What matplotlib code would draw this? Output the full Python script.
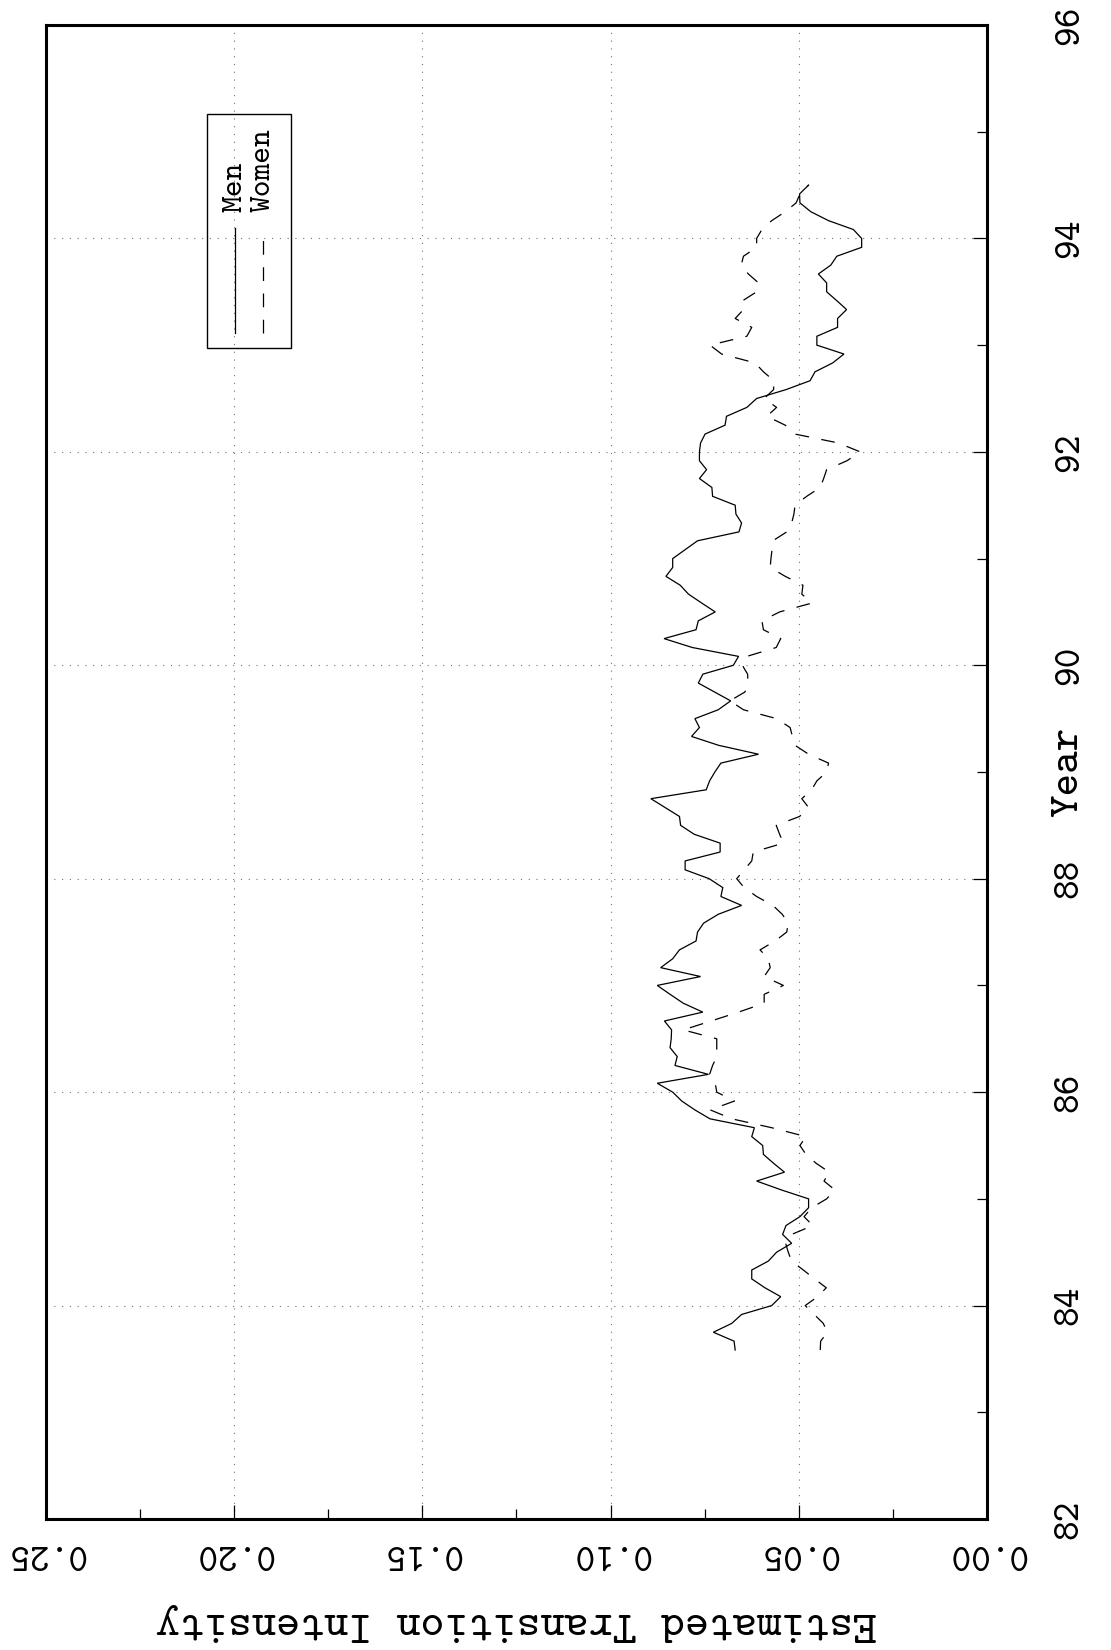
import numpy as np
import matplotlib
matplotlib.use("Agg")
import matplotlib.pyplot as plt
from matplotlib.lines import Line2D
from matplotlib.patches import Rectangle
from matplotlib.ticker import MultipleLocator, FixedLocator

# monthly observations, starting August 1983 (year axis in two-digit years)
start_year = 83 + 7 / 12
men = [0.0669, 0.0672, 0.0727, 0.0678, 0.0652, 0.0572, 0.0548, 0.0590, 0.0625, 0.0625,
       0.0581, 0.0559, 0.0519, 0.0543, 0.0534, 0.0497, 0.0474, 0.0474, 0.0546, 0.0612,
       0.0538, 0.0567, 0.0594, 0.0596, 0.0625, 0.0618, 0.0736, 0.0776, 0.0811, 0.0835,
       0.0876, 0.0740, 0.0829, 0.0823, 0.0842, 0.0839, 0.0838, 0.0857, 0.0755, 0.0807,
       0.0842, 0.0876, 0.0761, 0.0867, 0.0835, 0.0817, 0.0773, 0.0769, 0.0753, 0.0714,
       0.0652, 0.0707, 0.0702, 0.0738, 0.0802, 0.0802, 0.0709, 0.0709, 0.0778, 0.0814,
       0.0817, 0.0855, 0.0893, 0.0746, 0.0737, 0.0723, 0.0707, 0.0607, 0.0713, 0.0785,
       0.0764, 0.0776, 0.0714, 0.0681, 0.0724, 0.0767, 0.0755, 0.0674, 0.0660, 0.0783,
       0.0858, 0.0773, 0.0767, 0.0722, 0.0758, 0.0793, 0.0815, 0.0853, 0.0835, 0.0835,
       0.0802, 0.0769, 0.0659, 0.0652, 0.0667, 0.0669, 0.0729, 0.0731, 0.0764, 0.0745,
       0.0764, 0.0764, 0.0761, 0.0749, 0.0696, 0.0692, 0.0638, 0.0612, 0.0534, 0.0470,
       0.0457, 0.0410, 0.0380, 0.0452, 0.0452, 0.0397, 0.0397, 0.0373, 0.0399, 0.0426,
       0.0426, 0.0448, 0.0415, 0.0399, 0.0333, 0.0333, 0.0355, 0.0421, 0.0468, 0.0497,
       0.0498, 0.0474]
women = [0.0443, 0.0442, 0.0424, 0.0435, 0.0459, 0.0483, 0.0450, 0.0427, 0.0458, 0.0488,
         0.0519, 0.0528, 0.0535, 0.0519, 0.0463, 0.0486, 0.0466, 0.0426, 0.0404, 0.0433,
         0.0419, 0.0454, 0.0481, 0.0497, 0.0481, 0.0572, 0.0678, 0.0735, 0.0671, 0.0718,
         0.0722, 0.0737, 0.0729, 0.0718, 0.0718, 0.0718, 0.0807, 0.0733, 0.0660, 0.0592,
         0.0592, 0.0541, 0.0592, 0.0576, 0.0581, 0.0603, 0.0563, 0.0532, 0.0528, 0.0544,
         0.0569, 0.0612, 0.0645, 0.0665, 0.0645, 0.0625, 0.0621, 0.0541, 0.0551, 0.0560,
         0.0498, 0.0474, 0.0492, 0.0466, 0.0452, 0.0426, 0.0421, 0.0474, 0.0510, 0.0517,
         0.0523, 0.0559, 0.0647, 0.0683, 0.0643, 0.0635, 0.0636, 0.0650, 0.0638, 0.0560,
         0.0548, 0.0594, 0.0598, 0.0551, 0.0465, 0.0492, 0.0489, 0.0536, 0.0576, 0.0574,
         0.0571, 0.0569, 0.0532, 0.0519, 0.0513, 0.0510, 0.0479, 0.0443, 0.0434, 0.0426,
         0.0372, 0.0337, 0.0395, 0.0510, 0.0536, 0.0585, 0.0559, 0.0592, 0.0567, 0.0566,
         0.0594, 0.0616, 0.0705, 0.0736, 0.0638, 0.0625, 0.0669, 0.0647, 0.0649, 0.0612,
         0.0607, 0.0634, 0.0653, 0.0647, 0.0612, 0.0612, 0.0598, 0.0572, 0.0536, 0.0507,
         0.0497, 0.0474]
years = start_year + np.arange(len(men)) / 12

year_ticks = [82, 84, 86, 88, 90, 92, 94, 96]
year_labels = ["82", "84", "86", "88", "90", "92", "94", "96"]
int_ticks = [0.00, 0.05, 0.10, 0.15, 0.20, 0.25]
int_labels = ["0.00", "0.05", "0.10", "0.15", "0.20", "0.25"]
series_names = ["Men", "Women"]

FONT = "cmtt10"
W, H = 1111, 1650
fig = plt.figure(figsize=(W / 100, H / 100), dpi=100)

def fx(px):
    return px / W

def fy(py):
    return 1 - py / H

L, R, T, B = 46, 987, 25, 1519
ax = fig.add_axes([fx(L), fy(B), (R - L) / W, (B - T) / H])
ax.set_xlim(0.25, 0.0)
ax.set_ylim(82, 96)

ax.plot(men, years, color="black", lw=0.9, solid_joinstyle="miter")
ax.plot(women, years, color="black", lw=0.9, dashes=(11, 10))

ax.yaxis.tick_right()
ax.xaxis.set_major_locator(FixedLocator(int_ticks))
ax.yaxis.set_major_locator(FixedLocator(year_ticks))
ax.xaxis.set_minor_locator(MultipleLocator(0.025))
ax.yaxis.set_minor_locator(MultipleLocator(1))
ax.set_xticklabels(int_labels, rotation=180, fontfamily=FONT, fontsize=27)
ax.set_yticklabels(year_labels, rotation=90, fontfamily=FONT, fontsize=27, va="center")
ax.tick_params(which="both", direction="in", top=False, left=False,
               right=True, bottom=True, width=0.9, color="black")
ax.tick_params(which="major", length=10)
ax.tick_params(which="minor", length=7)
ax.tick_params(axis="x", pad=12)
ax.tick_params(axis="y", pad=48)

ax.grid(True, which="major", color="0.45", lw=0.8, linestyle=(0, (1, 6)))
for s in ax.spines.values():
    s.set_linewidth(2.2)
    s.set_color("black")

fig.text(fx(516), fy(1622), "Estimated Transition Intensity", rotation=180,
         ha="center", va="center", fontfamily=FONT, fontsize=33)
fig.text(fx(1069), fy(772), "Year", rotation=90, ha="center", va="center",
         fontfamily=FONT, fontsize=31)

# legend box (drawn rotated like the rest of the chart)
fig.add_artist(Rectangle((fx(207), fy(348)), (291 - 207) / W, (348 - 114) / H,
                         transform=fig.transFigure, fill=False, lw=1.0, ec="black"))
fig.add_artist(Line2D([fx(235), fx(235)], [fy(333), fy(228)], transform=fig.transFigure,
                      color="black", lw=0.9))
fig.add_artist(Line2D([fx(263), fx(263)], [fy(333), fy(228)], transform=fig.transFigure,
                      color="black", lw=0.9, dashes=(11, 10)))
fig.text(fx(236), fy(212), series_names[0], rotation=90, ha="center", va="bottom",
         fontfamily=FONT, fontsize=23)
fig.text(fx(264), fy(212), series_names[1], rotation=90, ha="center", va="bottom",
         fontfamily=FONT, fontsize=23)

fig.savefig("out.png", dpi=100)
